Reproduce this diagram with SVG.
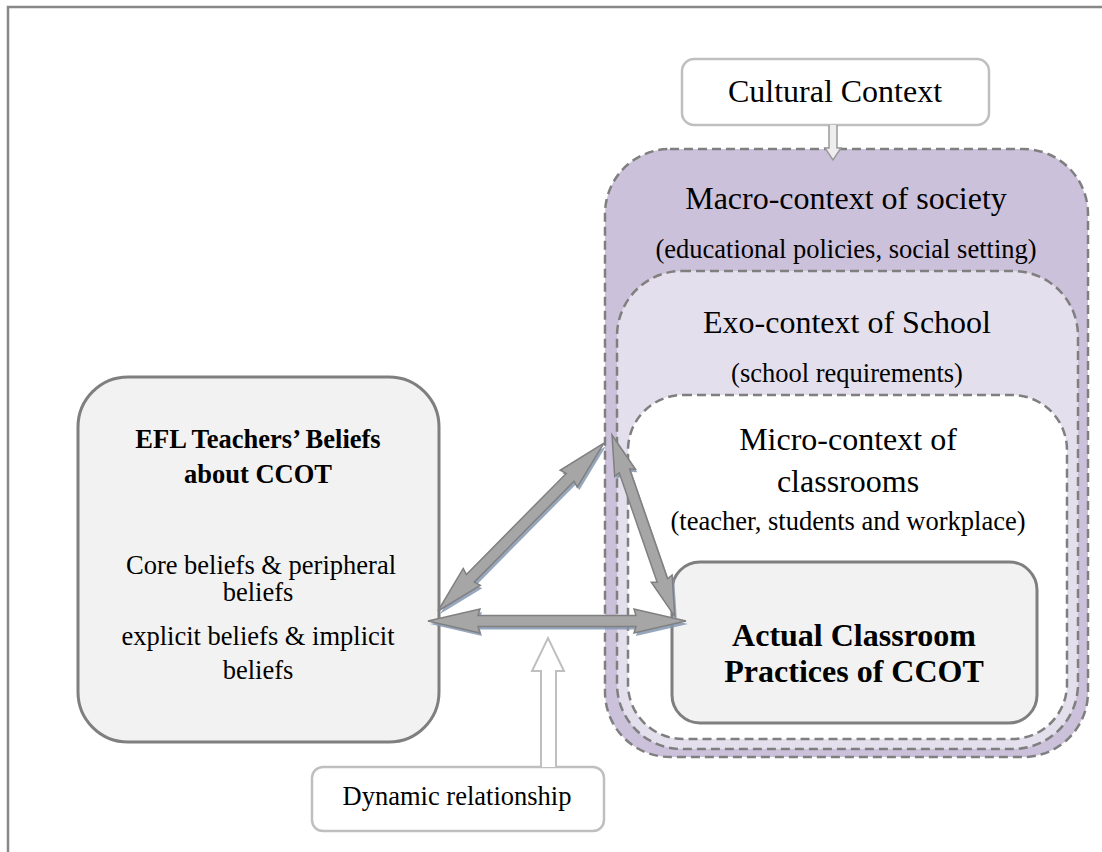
<svg xmlns="http://www.w3.org/2000/svg" width="1102" height="852" viewBox="0 0 1102 852">
<style>
.t{font-family:"Liberation Serif","Times New Roman",serif;fill:#000;text-anchor:middle}
.big{font-size:32px}
.sm{font-size:26.5px}
.b{font-weight:bold}
.ctx{stroke:#7f7f7f;stroke-width:2.5;stroke-dasharray:9 5}
.box{fill:#f2f2f2;stroke:#7f7f7f;stroke-width:3}
.lbl{fill:#fff;stroke:#bfbfbf;stroke-width:2.5}
.arr{fill:#a6a6a6;stroke:#808080;stroke-width:1.5;stroke-linejoin:miter}
.sh{fill:#8497b0;opacity:0.85}
</style>
<rect width="1102" height="852" fill="#fff"/>
<g id="frame" fill="none" stroke="#888" stroke-width="2.5">
<path d="M1102,7 H8 V852"/>
</g>
<g id="macro">
<rect class="ctx" x="605" y="149" width="483" height="608" rx="65" fill="#ccc1da"/>
<text class="t big" x="846" y="209">Macro-context of society</text>
<text class="t sm" x="846" y="258">(educational policies, social setting)</text>
</g>
<g id="exo">
<rect class="ctx" x="617" y="271" width="461" height="478" rx="65" fill="#e4dfec"/>
<text class="t big" x="847" y="333">Exo-context of School</text>
<text class="t sm" x="847" y="382">(school requirements)</text>
</g>
<g id="micro">
<rect class="ctx" x="628" y="395" width="439" height="344" rx="55" fill="#fff"/>
<text class="t big" x="848" y="450">Micro-context of</text>
<text class="t big" x="848" y="492">classrooms</text>
<text class="t sm" x="848" y="530">(teacher, students and workplace)</text>
</g>
<g id="practices">
<rect class="box" x="672" y="562" width="365" height="161" rx="28"/>
<text class="t big b" x="854" y="646">Actual Classroom</text>
<text class="t big b" x="854" y="682">Practices of CCOT</text>
</g>
<g id="beliefs">
<rect class="box" x="78" y="377" width="361" height="365" rx="50"/>
<text class="t sm b" x="258" y="448">EFL Teachers’ Beliefs</text>
<text class="t sm b" x="258" y="483">about CCOT</text>
<text class="t sm" x="261" y="574">Core beliefs &amp; peripheral</text>
<text class="t sm" x="258" y="601">beliefs</text>
<text class="t sm" x="258" y="645">explicit beliefs &amp; implicit</text>
<text class="t sm" x="258" y="679">beliefs</text>
</g>
<g id="cultural">
<rect class="lbl" x="682" y="59" width="307" height="66" rx="12" stroke="#8c8c8c" stroke-width="2"/>
<text class="t big" x="835" y="102">Cultural Context</text>
</g>
<g id="dynamic">
<rect class="lbl" x="312" y="767" width="292" height="64" rx="11"/>
<text class="t sm" x="457" y="805">Dynamic relationship</text>
</g>
<g id="connectors">
<path d="M829,125 V148 H825 L833,160 L841,148 H837 V125" fill="#eeeeee" stroke="#999" stroke-width="1.5"/>
<path d="M541,767 V671 H532 L548,638 L564,671 H556 V767" fill="#fff" stroke="#bfbfbf" stroke-width="2"/>
<g transform="translate(430,624)">
<polygon class="sh" points="0,0 52,-12 50,-5.5 208,-5.5 206,-12 258,0 206,12 208,5.5 50,5.5 52,12"/>
</g>
<g transform="translate(428,621)">
<polygon class="arr" points="0,0 52,-12 50,-5.5 208,-5.5 206,-12 258,0 206,12 208,5.5 50,5.5 52,12"/>
</g>
<g transform="translate(440,614) rotate(-45.34)">
<polygon class="sh" points="0,0 48,-12 46,-5.5 188,-5.5 186,-12 236,0 186,12 188,5.5 46,5.5 48,12"/>
</g>
<g transform="translate(438,611) rotate(-45.34)">
<polygon class="arr" points="0,0 48,-12 46,-5.5 188,-5.5 186,-12 236,0 186,12 188,5.5 46,5.5 48,12"/>
</g>
<g transform="translate(614,438) rotate(70.91)">
<polygon class="sh" points="0,0 40,-11 38,-5.5 154,-5.5 152,-11 192,0 152,11 154,5.5 38,5.5 40,11"/>
</g>
<g transform="translate(612,435) rotate(70.91)">
<polygon class="arr" points="0,0 40,-11 38,-5.5 154,-5.5 152,-11 192,0 152,11 154,5.5 38,5.5 40,11"/>
</g>
</g>
</svg>
